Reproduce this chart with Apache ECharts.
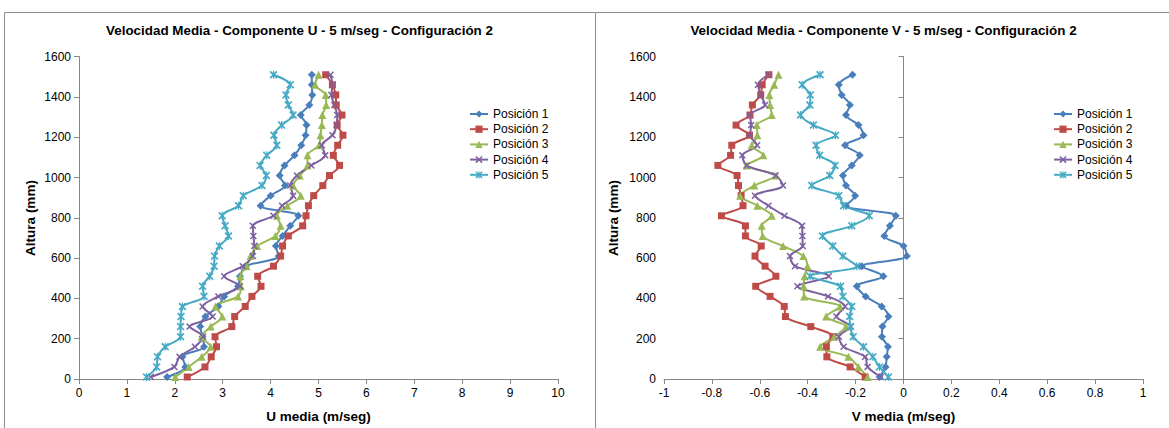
<!DOCTYPE html>
<html><head><meta charset="utf-8">
<script src="https://cdn.jsdelivr.net/npm/echarts@6/dist/echarts.min.js"></script>
<style>html,body{margin:0;padding:0;background:#fff}#c{width:1169px;height:428px}</style>
</head><body><div id="c"></div>
<script>
// Heights (mm) of the measurement points, bottom to top
const heights = [10,60,110,160,210,260,310,360,410,460,510,560,610,660,710,760,810,860,910,960,1010,1060,1110,1160,1210,1260,1310,1360,1410,1460,1510];
const seriesNames = ['Posición 1','Posición 2','Posición 3','Posición 4','Posición 5'];

// U component (m/seg)
const u1 = [1.84,2.22,2.16,2.61,2.58,2.53,2.64,2.91,3.03,3.32,3.36,3.48,4.17,4.11,4.25,4.41,4.58,3.79,4.00,4.30,4.19,4.29,4.50,4.64,4.73,4.75,4.63,4.81,4.87,4.86,4.86];
const u2 = [2.26,2.63,2.76,2.87,2.84,3.19,3.25,3.47,3.61,3.80,3.73,4.06,4.21,4.25,4.37,4.67,4.74,4.79,4.90,5.09,5.23,5.44,5.31,5.40,5.51,5.39,5.49,5.37,5.36,5.29,5.15];
const u3 = [2.01,2.29,2.56,2.75,2.56,2.75,2.99,2.85,3.32,3.38,3.37,3.50,3.58,3.72,4.10,4.21,4.13,4.35,4.63,4.47,4.61,4.77,4.77,5.01,5.04,5.07,5.08,5.16,5.15,4.93,5.00];
const u4 = [1.50,1.99,2.10,2.42,2.59,2.31,2.79,2.58,2.91,3.36,3.03,3.42,3.63,3.66,3.64,3.63,4.06,4.24,4.47,4.41,4.55,4.85,5.14,5.07,5.29,5.38,5.39,5.33,5.27,5.29,5.25];
const u5 = [1.41,1.62,1.64,1.80,2.12,2.12,2.13,2.16,2.61,2.58,2.73,2.82,2.83,2.93,3.12,3.05,2.99,3.33,3.43,3.82,3.91,3.78,3.92,4.13,4.07,4.23,4.47,4.37,4.32,4.41,4.06];

// V component (m/seg)
const v1 = [-0.10,-0.075,-0.07,-0.065,-0.09,-0.088,-0.063,-0.091,-0.158,-0.195,-0.084,-0.174,0.014,0.0,-0.08,-0.057,-0.032,-0.24,-0.202,-0.24,-0.253,-0.216,-0.183,-0.244,-0.167,-0.188,-0.24,-0.224,-0.258,-0.27,-0.213];
const v2 = [-0.16,-0.223,-0.32,-0.322,-0.295,-0.387,-0.493,-0.498,-0.557,-0.617,-0.533,-0.578,-0.62,-0.594,-0.66,-0.66,-0.76,-0.67,-0.678,-0.689,-0.695,-0.775,-0.722,-0.717,-0.643,-0.699,-0.641,-0.631,-0.596,-0.59,-0.562];
const v3 = [-0.15,-0.188,-0.23,-0.348,-0.29,-0.24,-0.323,-0.265,-0.415,-0.417,-0.413,-0.401,-0.418,-0.503,-0.588,-0.592,-0.55,-0.61,-0.682,-0.623,-0.532,-0.655,-0.585,-0.634,-0.61,-0.613,-0.55,-0.557,-0.56,-0.54,-0.522];
const v4 = [-0.095,-0.15,-0.16,-0.25,-0.27,-0.22,-0.28,-0.244,-0.315,-0.443,-0.312,-0.453,-0.474,-0.421,-0.422,-0.424,-0.497,-0.564,-0.62,-0.503,-0.534,-0.655,-0.673,-0.611,-0.641,-0.636,-0.641,-0.578,-0.596,-0.608,-0.564];
const v5 = [-0.063,-0.10,-0.128,-0.167,-0.21,-0.222,-0.225,-0.216,-0.253,-0.263,-0.39,-0.195,-0.253,-0.295,-0.338,-0.216,-0.143,-0.25,-0.27,-0.383,-0.308,-0.286,-0.35,-0.365,-0.284,-0.376,-0.43,-0.391,-0.389,-0.423,-0.348];

const titleU = 'Velocidad Media - Componente U - 5 m/seg - Configuración 2';
const titleV = 'Velocidad Media - Componente V - 5 m/seg - Configuración 2';
const xNameU = 'U media (m/seg)';
const xNameV = 'V media (m/seg)';
const yName = 'Altura (mm)';

const colors = ['#4A7EBB','#BE4B48','#98B954','#7D60A0','#46AAC5'];
const XPATH = 'path://M0,3 L3,0 L10,7 L17,0 L20,3 L13,10 L20,17 L17,20 L10,13 L3,20 L0,17 L7,10 Z';
const STARPATH = 'path://M0,3 L3,0 L10,7 L17,0 L20,3 L13,10 L20,17 L17,20 L10,13 L3,20 L0,17 L7,10 Z M8.5,0 L11.5,0 L11.5,20 L8.5,20 Z';
const symbols = ['diamond','rect','triangle',XPATH,STARPATH];
const symSizes = [8,7,8,7,8];

const uData = [u1,u2,u3,u4,u5];
const vData = [v1,v2,v3,v4,v5];

const FONT = '"Liberation Sans",Arial,sans-serif';
const TICKFONT = '"Liberation Sans",Arial,sans-serif';
const axisGrey = '#868686';

function mkSeries(arrs, gi){
  return arrs.map((a,k)=>({
    name: seriesNames[k], type:'line', xAxisIndex:gi, yAxisIndex:gi,
    data: heights.map((h,j)=>[a[j],h]),
    smooth:0.3, symbol:symbols[k], symbolSize:symSizes[k],
    lineStyle:{color:colors[k],width:2}, itemStyle:{color:colors[k]},
    animation:false
  }));
}
function xAx(gi,min,max,iv,name){
  return {type:'value',gridIndex:gi,min:min,max:max,interval:iv,
    axisLine:{show:true,onZero:false,lineStyle:{color:axisGrey}},
    axisTick:{show:true,length:5,lineStyle:{color:axisGrey}},
    axisLabel:{color:'#000',fontSize:12,fontFamily:TICKFONT,margin:8,formatter:v=>String(v)},
    splitLine:{show:false},
    name:name,nameLocation:'middle',nameGap:30,
    nameTextStyle:{color:'#000',fontWeight:'bold',fontSize:13.5,fontFamily:FONT}};
}
function yAx(gi){
  return {type:'value',gridIndex:gi,min:0,max:1600,interval:200,
    axisLine:{show:true,onZero:true,lineStyle:{color:axisGrey}},
    axisTick:{show:true,length:5,lineStyle:{color:axisGrey}},
    axisLabel:{color:'#000',fontSize:12,fontFamily:TICKFONT,margin:8,formatter:v=>String(v)},
    splitLine:{show:false}};
}
function legend(left){
  return {orient:'vertical',left:left,top:108,padding:0,itemWidth:18,itemHeight:9,itemGap:3.2,itemTextGap:0,
    data:seriesNames,textStyle:{color:'#000',fontSize:12,fontFamily:FONT}};
}
const chart = echarts.init(document.getElementById('c'),null,{renderer:'svg'});
chart.setOption({
  animation:false,
  backgroundColor:'#fff',
  grid:[{left:79,top:56.6,width:479,height:322.7},{left:664,top:56.6,width:479,height:322.7}],
  xAxis:[xAx(0,0,10,1,xNameU),xAx(1,-1,1,0.2,xNameV)],
  yAxis:[yAx(0),yAx(1)],
  legend:[legend(469),legend(1053)],
  series:mkSeries(uData,0).concat(mkSeries(vData,1)),
  graphic:[
    {type:'rect',silent:true,shape:{x:4.5,y:12.5,width:591,height:430},style:{fill:'none',stroke:'#8c8c8c',lineWidth:1}},
    {type:'rect',silent:true,shape:{x:595.5,y:12.5,width:600,height:430},style:{fill:'none',stroke:'#8c8c8c',lineWidth:1}},
    {type:'text',x:299.5,y:30,style:{text:titleU,align:'center',verticalAlign:'middle',font:'bold 13.4px '+FONT,fill:'#000'}},
    {type:'text',x:883.5,y:30,style:{text:titleV,align:'center',verticalAlign:'middle',font:'bold 13.4px '+FONT,fill:'#000'}},
    {type:'text',x:30,y:218,rotation:Math.PI/2,style:{text:yName,align:'center',verticalAlign:'middle',font:'bold 13.5px '+FONT,fill:'#000'}},
    {type:'text',x:613,y:218,rotation:Math.PI/2,style:{text:yName,align:'center',verticalAlign:'middle',font:'bold 13.5px '+FONT,fill:'#000'}}
  ]
});
</script></body></html>
